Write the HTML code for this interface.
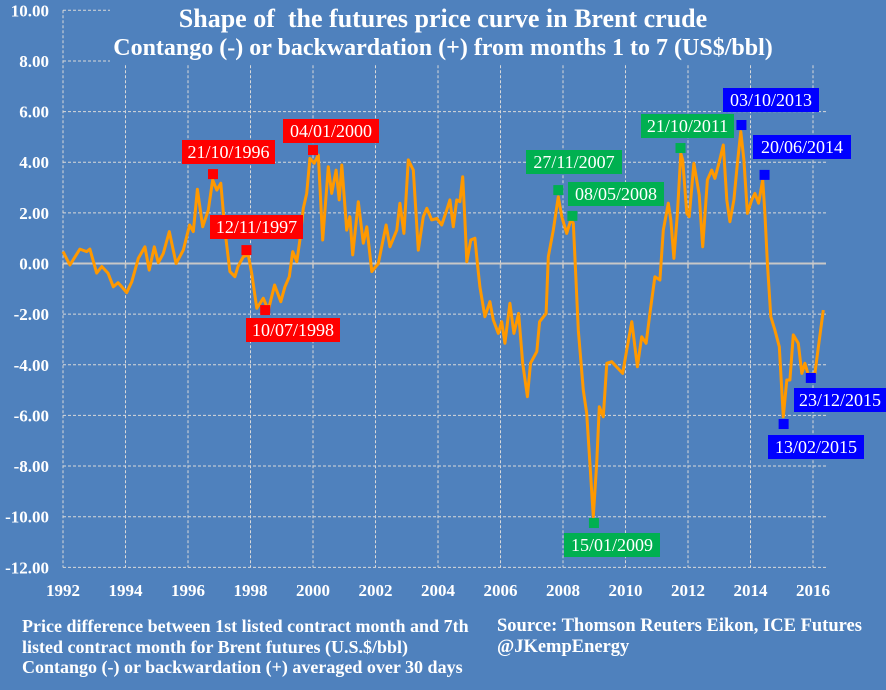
<!DOCTYPE html>
<html><head><meta charset="utf-8"><style>
html,body{margin:0;padding:0;background:#4F81BD;}
svg{display:block;font-family:"Liberation Serif",serif;}
</style></head><body>
<svg id="chart" width="886" height="690" viewBox="0 0 886 690"></svg>
<script>
const dates=[1992.0,1992.22,1992.54,1992.76,1992.86,1993.08,1993.24,1993.44,1993.61,1993.76,1993.88,1994.04,1994.2,1994.41,1994.62,1994.76,1994.92,1995.05,1995.21,1995.4,1995.62,1995.85,1996.05,1996.17,1996.3,1996.47,1996.65,1996.79,1996.92,1997.05,1997.18,1997.34,1997.5,1997.6,1997.77,1997.93,1998.04,1998.2,1998.41,1998.57,1998.77,1998.97,1999.1,1999.24,1999.35,1999.48,1999.58,1999.69,1999.8,1999.9,2000.04,2000.17,2000.31,2000.49,2000.6,2000.74,2000.84,2000.92,2001.08,2001.18,2001.27,2001.45,2001.61,2001.72,2001.88,2002.09,2002.34,2002.46,2002.68,2002.78,2002.91,2003.05,2003.21,2003.37,2003.53,2003.64,2003.8,2003.96,2004.12,2004.28,2004.38,2004.49,2004.6,2004.7,2004.79,2004.86,2004.92,2005.05,2005.18,2005.26,2005.34,2005.5,2005.66,2005.77,2005.93,2006.04,2006.14,2006.3,2006.43,2006.58,2006.71,2006.86,2006.96,2007.16,2007.25,2007.46,2007.53,2007.69,2007.85,2007.96,2008.12,2008.25,2008.33,2008.38,2008.49,2008.65,2008.76,2008.86,2008.97,2009.08,2009.16,2009.29,2009.4,2009.56,2009.91,2010.04,2010.2,2010.38,2010.52,2010.66,2010.78,2010.94,2011.1,2011.21,2011.37,2011.45,2011.55,2011.66,2011.77,2011.83,2011.96,2012.04,2012.19,2012.36,2012.47,2012.62,2012.76,2012.86,2013.0,2013.13,2013.24,2013.34,2013.47,2013.58,2013.69,2013.79,2013.9,2014.04,2014.14,2014.26,2014.39,2014.46,2014.54,2014.65,2014.78,2014.92,2015.05,2015.16,2015.26,2015.37,2015.53,2015.64,2015.74,2015.85,2016.06,2016.2,2016.33];
const values=[0.47,-0.06,0.57,0.47,0.57,-0.38,-0.12,-0.38,-0.92,-0.76,-0.92,-1.15,-0.72,0.2,0.66,-0.26,0.66,0.03,0.4,1.26,0.0,0.53,1.52,1.26,2.93,1.45,2.11,3.3,2.9,3.17,1.32,-0.32,-0.52,-0.12,0.27,0.34,-0.39,-1.77,-1.37,-1.84,-0.85,-1.51,-0.92,-0.52,0.47,0.07,0.93,2.18,2.77,4.15,3.96,4.28,0.93,3.82,2.77,3.69,2.51,3.89,1.32,1.85,0.34,2.44,0.8,1.45,-0.32,0.0,1.52,0.66,1.32,2.38,1.19,4.09,3.69,0.53,1.85,2.18,1.72,1.78,1.52,2.11,2.51,1.45,2.51,2.44,3.43,1.72,0.07,0.93,1.0,0.0,-0.92,-2.1,-1.51,-2.23,-2.76,-2.3,-3.15,-1.57,-2.76,-1.97,-3.94,-5.26,-3.94,-3.48,-2.3,-1.97,0.27,1.32,2.64,1.85,1.19,1.72,1.59,0.27,-2.63,-5.0,-5.92,-7.89,-10.0,-7.89,-5.66,-6.05,-3.94,-3.88,-4.34,-3.42,-2.3,-4.08,-2.89,-3.15,-1.97,-0.52,-0.65,1.32,2.38,1.72,0.2,1.98,4.35,4.09,1.98,1.85,3.96,2.71,0.66,3.3,3.69,3.36,4.02,4.68,2.51,1.65,2.51,3.96,5.21,4.09,1.98,2.51,2.77,2.38,3.3,1.98,0.0,-2.1,-2.63,-3.29,-6.05,-4.6,-4.6,-2.82,-3.15,-4.34,-3.94,-4.4,-4.34,-3.02,-1.84];
const markerLabels=["21/10/1996","12/11/1997","10/07/1998","04/01/2000","27/11/2007","08/05/2008","15/01/2009","21/10/2011","03/10/2013","20/06/2014","13/02/2015","23/12/2015"];
const markerDates=[1996.8,1997.87,1998.47,2000.0,2007.85,2008.3,2008.99,2011.76,2013.71,2014.45,2015.06,2015.93];
const markerValues=[3.53,0.53,-1.84,4.48,2.9,1.88,-10.25,4.56,5.47,3.5,-6.34,-4.52];
const markerColors=["#FF0000","#FF0000","#FF0000","#FF0000","#00B050","#00B050","#00B050","#00B050","#0000FF","#0000FF","#0000FF","#0000FF"];
const yTicks=[10,8,6,4,2,0,-2,-4,-6,-8,-10,-12];
const xTicks=[1992,1994,1996,1998,2000,2002,2004,2006,2008,2010,2012,2014,2016];

const NS="http://www.w3.org/2000/svg";
const svg=document.getElementById('chart');
const X0=63,X1=826;
function xs(d){return 63+(d-1992)*31.25;}
function ys(v){return 263.5-v*25.32;}
function mk(tag,attrs,parent){const e=document.createElementNS(NS,tag);for(const k in attrs)e.setAttribute(k,attrs[k]);(parent||svg).appendChild(e);return e;}

yTicks.forEach(v=>{
  if(v===0)return;
  const l=mk('line',{x1:X0,x2:X1,y1:ys(v),y2:ys(v),stroke:'#D9D9D9','stroke-width':1,'stroke-dasharray':'3,2'});
  
  
});
xTicks.forEach(d=>{
  const l=mk('line',{x1:xs(d),x2:xs(d),y1:ys(10),y2:ys(-12),stroke:'#D9D9D9','stroke-width':1,'stroke-dasharray':'3,2'});
  
  
});
const cover=mk('rect',{x:110,y:0,width:716,height:64,fill:'#4F81BD'});


const zl=mk('line',{x1:X0,x2:X1,y1:ys(0),y2:ys(0),stroke:'#C8C8C8','stroke-width':2});


xTicks.forEach(d=>{
  const t=mk('line',{x1:xs(d),x2:xs(d),y1:ys(0),y2:ys(0)+5,stroke:'#C8C8C8','stroke-width':1.5});
  
  
});
yTicks.forEach(v=>{
  const t=mk('text',{x:49,y:ys(v)+6,'text-anchor':'end',fill:'#fff','font-size':17,'font-weight':'bold'});
  t.textContent=v.toFixed(2);
  
  
});
xTicks.forEach(d=>{
  const t=mk('text',{x:xs(d),y:596,'text-anchor':'middle',fill:'#fff','font-size':17,'font-weight':'bold'});
  t.textContent=d;
  
  
});
let dstr='';
dates.forEach((d,i)=>{dstr+=(i?'L':'M')+xs(d).toFixed(1)+','+ys(values[i]).toFixed(1);});
const path=mk('path',{d:dstr,fill:'none',stroke:'#FF9900','stroke-width':3,'stroke-linejoin':'round'});


const boxes=[[182,140,93],[210,215,93],[246,318,94],[283,119,96],[526,150,96],[568,182,96],[564,533,96],[641,114,93],[723,88,96],[753,135,98],[768,435,96],[794,388,92]];
markerLabels.forEach((lab,i)=>{
  const r=mk('rect',{x:xs(markerDates[i])-5,y:ys(markerValues[i])-5,width:10,height:10,fill:markerColors[i]});
  
  
  const b=boxes[i];
  const g=mk('g',{});
  
  
  mk('rect',{x:b[0],y:b[1],width:b[2],height:24,fill:markerColors[i]},g);
  const t=mk('text',{x:b[0]+b[2]/2,y:b[1]+18,'text-anchor':'middle',fill:'#fff','font-size':18},g);
  t.textContent=lab;
});
</script>
<div style="position:absolute;left:0;top:0;width:886px;height:690px;pointer-events:none;font-family:'Liberation Serif',serif;color:#fff;">
  <div style="position:absolute;left:0;width:886px;top:4px;text-align:center;font-size:26px;font-weight:bold;">Shape of &nbsp;the futures price curve in Brent crude</div>
  <div style="position:absolute;left:0;width:886px;top:35px;text-align:center;font-size:24px;font-weight:bold;">Contango (-) or backwardation (+) from months 1 to 7 (US$/bbl)</div>
  <div style="position:absolute;left:22px;top:616px;font-size:18px;font-weight:bold;line-height:20.5px;">Price difference between 1st listed contract month and 7th<br>listed contract month for Brent futures (U.S.$/bbl)<br>Contango (-) or backwardation (+) averaged over 30 days</div>
  <div style="position:absolute;left:497px;top:616px;font-size:18.5px;font-weight:bold;line-height:20.5px;">Source: Thomson Reuters Eikon, ICE Futures<br>@JKempEnergy</div>
</div>
</body></html>
